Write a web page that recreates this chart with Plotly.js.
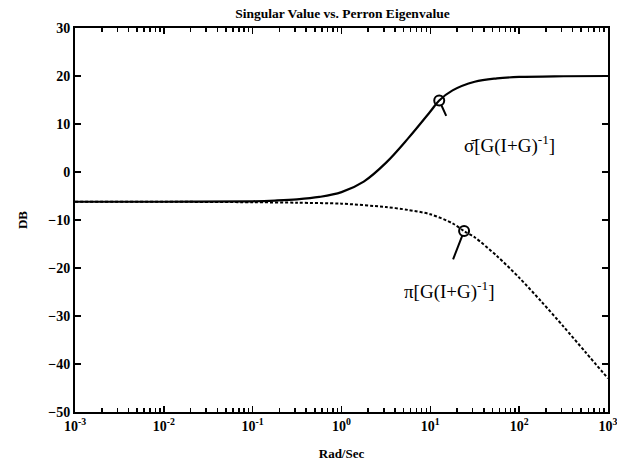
<!DOCTYPE html>
<html>
<head>
<meta charset="utf-8">
<script src="https://cdn.plot.ly/plotly-3.0.1.min.js"></script>
<style>html,body{margin:0;padding:0;background:#fff;}#chart{width:617px;height:468px;}</style>
</head>
<body>
<div id="chart"></div>
<script>
// frequency points (rad/sec)
const freq = [0.001, 0.01, 0.1, 0.178, 0.316, 0.562, 1, 1.78, 3.16, 5.62, 10, 12.6, 17.8, 31.6, 56.2, 100, 316, 1000];
// upper solid curve: max singular value of G(I+G)^-1 (dB)
const sigmaDb = [-6.2, -6.2, -6.1, -5.95, -5.7, -5.2, -4.2, -2.0, 1.9, 7.0, 12.6, 14.9, 17.0, 18.8, 19.5, 19.8, 19.95, 20.0];
// lower dotted curve: Perron eigenvalue of G(I+G)^-1 (dB)
const freqP = [0.001, 0.01, 0.1, 0.316, 1, 3.16, 5.62, 10, 17.8, 24, 31.6, 56.2, 100, 178, 316, 562, 1000];
const perronDb = [-6.2, -6.2, -6.3, -6.4, -6.6, -7.3, -7.9, -8.8, -10.7, -12.3, -13.6, -17.5, -22.0, -27.0, -32.2, -37.6, -43.0];
// marked points on the curves
const markX = [12.6, 24];
const markY = [14.9, -12.3];
// tick labels
const xTickVals = [0.001, 0.01, 0.1, 1, 10, 100, 1000];
const xTickText = ['10<sup>-3</sup>', '10<sup>-2</sup>', '10<sup>-1</sup>', '10<sup>0</sup>', '10<sup>1</sup>', '10<sup>2</sup>', '10<sup>3</sup>'];
const yTickVals = [-50, -40, -30, -20, -10, 0, 10, 20, 30];

const FONT = 'Liberation Serif, Times New Roman, serif';

const traces = [
  {x: freq, y: sigmaDb, type: 'scatter', mode: 'lines', line: {color: '#000', width: 2.2, shape: 'spline', smoothing: 1}, showlegend: false, hoverinfo: 'skip'},
  {x: freqP, y: perronDb, type: 'scatter', mode: 'lines', line: {color: '#000', width: 2, dash: '3px,2px', shape: 'spline', smoothing: 0.8}, showlegend: false, hoverinfo: 'skip'},
  {x: markX, y: markY, type: 'scatter', mode: 'markers', marker: {symbol: 'circle-open', size: 10, color: '#000', line: {width: 2, color: '#000'}}, showlegend: false, hoverinfo: 'skip'}
];

const layout = {
  width: 617, height: 468,
  margin: {l: 75, r: 9, t: 28, b: 56},
  paper_bgcolor: '#fff', plot_bgcolor: '#fff',
  font: {family: FONT, color: '#000', size: 13},
  title: {text: '<b>Singular Value vs. Perron Eigenvalue</b>', x: 0.555, xanchor: 'center', y: 0.972, yanchor: 'middle', font: {family: FONT, size: 13.5, color: '#000'}},
  xaxis: {
    type: 'log', range: [-3.0005, 3.0005],
    tickvals: xTickVals, ticktext: xTickText,
    ticklabeloverflow: 'allow',
    ticks: 'inside', ticklen: 6, tickwidth: 1.5, tickcolor: '#000',
    minor: {ticks: 'inside', ticklen: 4, tickwidth: 1.5, tickcolor: '#000', dtick: 'D1', showgrid: false},
    showline: true, linecolor: '#000', linewidth: 2, mirror: 'ticks',
    showgrid: false, zeroline: false,
    tickfont: {family: FONT, size: 14, color: '#000', weight: 'bold'},
    title: {text: '<b>Rad/Sec</b>', font: {family: FONT, size: 13, color: '#000'}, standoff: 16}
  },
  yaxis: {
    range: [-50, 30], tickvals: yTickVals,
    ticks: 'inside', ticklen: 6, tickwidth: 1.5, tickcolor: '#000',
    showline: true, linecolor: '#000', linewidth: 2, mirror: 'ticks',
    showgrid: false, zeroline: false,
    tickfont: {family: FONT, size: 14, color: '#000', weight: 'bold'},
    title: {text: '<b>DB</b>', font: {family: FONT, size: 13, color: '#000'}, standoff: 18}
  },
  annotations: [
    {x: Math.log10(12.6), y: 14.9, xref: 'x', yref: 'y', text: ' ', showarrow: true, arrowhead: 0, arrowwidth: 2, arrowcolor: '#000', ax: 10, ay: 22, standoff: 5},
    {x: Math.log10(24), y: -12.3, xref: 'x', yref: 'y', text: ' ', showarrow: true, arrowhead: 0, arrowwidth: 2, arrowcolor: '#000', ax: -14, ay: 36, standoff: 5},
    {x: Math.log10(78), y: 5.8, xref: 'x', yref: 'y', text: 'σ̄[G(I+G)<sup>-1</sup>]', showarrow: false, font: {family: FONT, size: 19, color: '#000'}},
    {x: Math.log10(16.2), y: -24.6, xref: 'x', yref: 'y', text: 'π[G(I+G)<sup>-1</sup>]', showarrow: false, font: {family: FONT, size: 19, color: '#000'}}
  ]
};

Plotly.newPlot('chart', traces, layout, {staticPlot: true, displayModeBar: false});
</script>
</body>
</html>
